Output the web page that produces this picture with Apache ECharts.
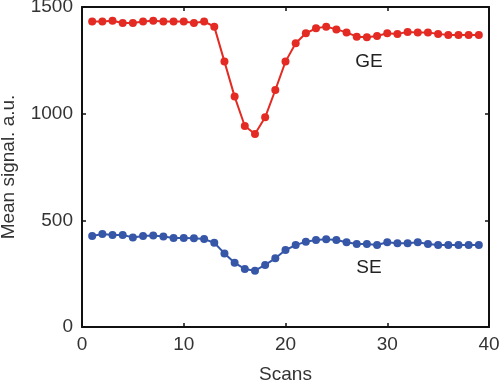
<!DOCTYPE html>
<html><head><meta charset="utf-8">
<script src="https://cdn.jsdelivr.net/npm/echarts@6/dist/echarts.min.js"></script>
<style>html,body{margin:0;padding:0;background:#fff}#c{width:500px;height:382px}</style>
</head><body><div id="c"></div>
<script>
var scans = [1,2,3,4,5,6,7,8,9,10,11,12,13,14,15,16,17,18,19,20,21,22,23,24,25,26,27,28,29,30,31,32,33,34,35,36,37,38,39];
var geValues = [1432,1432,1436,1425,1425,1432,1436,1432,1432,1432,1425,1432,1408,1244,1080,942,905,983,1111,1244,1330,1377,1400,1408,1395,1381,1361,1358,1364,1377,1374,1383,1380,1380,1374,1369,1369,1369,1369];
var seValues = [427,436,431,431,420,427,429,424,417,417,416,412,395,345,301,272,264,291,322,361,384,400,408,411,408,397,389,389,384,397,393,393,397,389,384,384,384,384,384];
var xTicks = [0,10,20,30,40];
var yTicks = [0,500,1000,1500];
var seriesNames = ['GE','SE'];
var labelAnchors = [[28.2,1245],[28.2,280]];

var font = 'Liberation Sans, Arial, Helvetica, sans-serif';
var txt = '#333';
function pair(a,b){return a.map(function(v,i){return [v,b[i]];});}
function axisLine(){return {show:true, onZero:false, lineStyle:{color:'#111', width:2}};}
function tick(){return {show:true,inside:true,length:4,lineStyle:{color:'#111',width:1.5}};}
var chart = echarts.init(document.getElementById('c'));
var colors = ['#e32b24','#3656a8'];
var datasets = [geValues, seValues];
chart.setOption({
  animation:false,
  grid:{left:82,right:11,top:7,bottom:55,outerBoundsMode:'none',containLabel:false},
  xAxis:[{
    type:'value', min:xTicks[0], max:xTicks[xTicks.length-1], interval:10,
    name:'Scans', nameLocation:'middle', nameGap:38,
    nameTextStyle:{fontFamily:font,fontSize:19,color:txt},
    axisLine:axisLine(), axisTick:tick(),
    axisLabel:{fontFamily:font,fontSize:19,color:txt,margin:8,formatter:function(v){return String(v);}},
    splitLine:{show:false}
  },{
    type:'value', position:'top', min:xTicks[0], max:xTicks[xTicks.length-1], interval:10,
    axisLine:axisLine(), axisTick:tick(),
    axisLabel:{show:false}, splitLine:{show:false}
  }],
  yAxis:[{
    type:'value', min:yTicks[0], max:yTicks[yTicks.length-1], interval:500,
    name:'Mean signal. a.u.', nameLocation:'middle', nameGap:64, nameRotate:90,
    nameTextStyle:{fontFamily:font,fontSize:19,color:txt},
    axisLine:axisLine(), axisTick:tick(),
    axisLabel:{fontFamily:font,fontSize:19,color:txt,margin:9,formatter:function(v){return String(v);}},
    splitLine:{show:false}
  },{
    type:'value', position:'right', min:yTicks[0], max:yTicks[yTicks.length-1], interval:500,
    axisLine:axisLine(), axisTick:tick(),
    axisLabel:{show:false}, splitLine:{show:false}
  }],
  series: seriesNames.map(function(n,i){
    return {
      name:n, type:'line', data:pair(scans, datasets[i]),
      symbol:'circle', symbolSize:8,
      lineStyle:{color:colors[i],width:2}, itemStyle:{color:colors[i]},
      markPoint:{
        symbol:'circle', symbolSize:0,
        label:{show:true, formatter:n, fontFamily:font, fontSize:19, color:'#222', position:'inside'},
        data:[{coord:labelAnchors[i]}]
      }
    };
  })
});
</script></body></html>
